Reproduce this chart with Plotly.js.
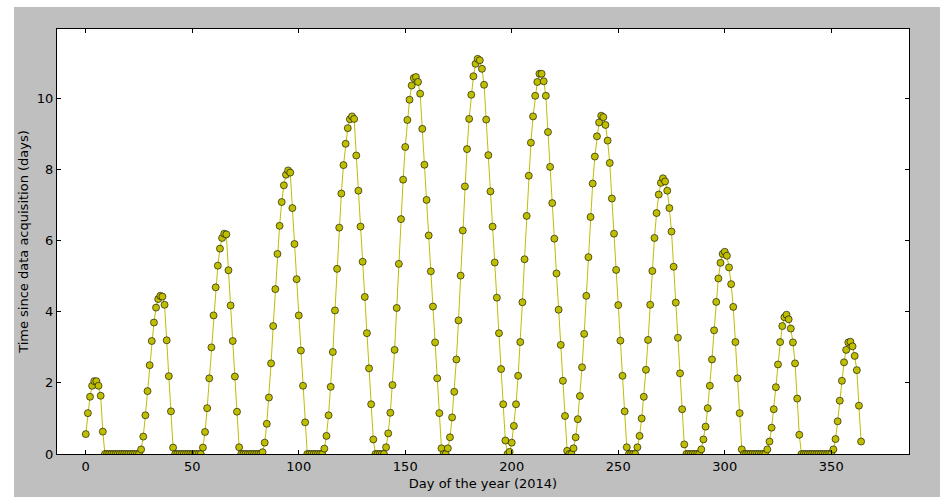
<!DOCTYPE html>
<html>
<head>
<meta charset="utf-8">
<script src="https://cdn.plot.ly/plotly-3.0.1.min.js"></script>
<style>
  html, body { margin: 0; padding: 0; background: #ffffff; }
  #wrap { position: relative; width: 947px; height: 501px; background: #ffffff; overflow: hidden; }
  #chart { position: absolute; left: 14px; top: 7px; width: 926px; height: 490px; }
</style>
</head>
<body>
<div id="wrap"><div id="chart"></div></div>
<script>
// Time since data acquisition (days), one value per day of 2014 (day 0 .. 364)
const days0to54 = [
  0.56, 1.15, 1.61, 1.92, 2.05, 2.05, 1.92, 1.64, 0.63,
  0, 0, 0, 0, 0, 0, 0, 0, 0, 0, 0, 0, 0, 0, 0, 0, 0,
  0.13, 0.49, 1.09, 1.77, 2.50, 3.18, 3.70, 4.12, 4.36, 4.45, 4.43, 4.20, 3.20, 2.19, 1.20, 0.18,
  0, 0, 0, 0, 0, 0, 0, 0, 0, 0, 0, 0, 0
];
const days55to111 = [
  0.18, 0.62, 1.29, 2.13, 3.00, 3.90, 4.69, 5.30, 5.78, 6.08, 6.20, 6.18, 5.17, 4.18, 3.18, 2.18, 1.19, 0.19,
  0, 0, 0, 0, 0, 0, 0, 0, 0, 0,
  0.05, 0.32, 0.85, 1.59, 2.55, 3.60, 4.64, 5.63, 6.42, 7.09, 7.56, 7.86, 7.98, 7.92, 6.92, 5.91, 4.92, 3.90, 2.91, 1.92, 0.89,
  0, 0, 0, 0, 0, 0, 0, 0
];
const days112to169 = [
  0.15, 0.51, 1.09, 1.89, 2.87, 4.04, 5.21, 6.37, 7.33, 8.13, 8.73, 9.17, 9.42, 9.50, 9.43, 8.40, 7.41, 6.40, 5.41, 4.42, 3.40, 2.41, 1.40, 0.41,
  0, 0, 0, 0, 0,
  0.19, 0.58, 1.16, 1.94, 2.93, 4.11, 5.35, 6.61, 7.72, 8.64, 9.40, 9.97, 10.37, 10.58, 10.61, 10.47, 10.14, 9.15, 8.14, 7.15, 6.15, 5.14, 4.15, 3.14, 2.13, 1.15, 0.16,
  0, 0
];
const days170to228 = [
  0.16, 0.47, 1.03, 1.75, 2.66, 3.76, 5.02, 6.29, 7.53, 8.58, 9.43, 10.11, 10.63, 10.98, 11.12, 11.08, 10.84, 10.39, 9.41, 8.41, 7.39, 6.40, 5.39, 4.40, 3.40, 2.39, 1.40, 0.38,
  0,
  0.06, 0.32, 0.79, 1.40, 2.20, 3.15, 4.27, 5.48, 6.70, 7.83, 8.76, 9.50, 10.08, 10.47, 10.70, 10.70, 10.49, 10.08, 9.06, 8.08, 7.06, 6.06, 5.08, 4.06, 3.07, 2.06, 1.07, 0.09,
  0, 0
];
const days229to288 = [
  0.16, 0.47, 0.98, 1.63, 2.44, 3.38, 4.45, 5.54, 6.67, 7.61, 8.37, 8.94, 9.33, 9.52, 9.48, 9.26, 8.82, 8.19, 7.19, 6.20, 5.18, 4.19, 3.19, 2.20, 1.20, 0.19,
  0, 0, 0, 0,
  0.19, 0.51, 1.00, 1.61, 2.37, 3.21, 4.20, 5.15, 6.08, 6.78, 7.30, 7.63, 7.76, 7.67, 7.41, 6.92, 6.26, 5.27, 4.26, 3.27, 2.27, 1.26, 0.27,
  0, 0, 0, 0, 0, 0, 0
];
const days289to364 = [
  0.13, 0.41, 0.77, 1.29, 1.92, 2.66, 3.48, 4.28, 4.94, 5.38, 5.63, 5.69, 5.58, 5.25, 4.78, 4.14, 3.15, 2.13, 1.15, 0.13,
  0, 0, 0, 0, 0, 0, 0, 0, 0, 0, 0,
  0.13, 0.35, 0.74, 1.26, 1.88, 2.52, 3.15, 3.60, 3.85, 3.92, 3.79, 3.53, 3.14, 2.55, 1.56, 0.54,
  0, 0, 0, 0, 0, 0, 0, 0, 0, 0, 0, 0, 0, 0, 0,
  0.13, 0.42, 0.92, 1.50, 2.06, 2.58, 2.93, 3.14, 3.16, 3.03, 2.76, 2.36, 1.36, 0.35
];
const xTicks = [0, 50, 100, 150, 200, 250, 300, 350];
const yTicks = [0, 2, 4, 6, 8, 10];
const xTitle = 'Day of the year (2014)';
const yTitle = 'Time since data acquisition (days)';

const values = [].concat(days0to54, days55to111, days112to169, days170to228, days229to288, days289to364);
const dayOfYear = values.map((v, i) => i);

const font = { family: 'DejaVu Sans, sans-serif', size: 13, color: '#000000' };

const trace = {
  x: dayOfYear,
  y: values,
  type: 'scatter',
  mode: 'lines+markers',
  line: { color: '#bfbf00', width: 1 },
  marker: { color: '#bfbf00', size: 7, line: { color: 'rgba(0,0,0,0.75)', width: 0.8 } },
  cliponaxis: true,
  hoverinfo: 'x+y'
};

const axisCommon = {
  showgrid: false, zeroline: false,
  showline: true, linecolor: '#000000', linewidth: 1, mirror: 'allticks',
  ticks: 'inside', ticklen: 4, tickwidth: 1, tickcolor: '#000000',
  tickfont: font
};

const layout = {
  width: 926, height: 490,
  paper_bgcolor: '#bfbfbf',
  plot_bgcolor: '#ffffff',
  margin: { l: 43, r: 31, t: 22, b: 43, pad: 0 },
  showlegend: false,
  xaxis: Object.assign({}, axisCommon, {
    range: [-13.5, 386.5], tickmode: 'array', tickvals: xTicks, ticktext: xTicks.map(String),
    title: { text: xTitle, font: font, standoff: 6 }
  }),
  yaxis: Object.assign({}, axisCommon, {
    range: [0, 11.96], tickmode: 'array', tickvals: yTicks, ticktext: yTicks.map(String),
    title: { text: yTitle, font: font, standoff: 5 }
  })
};

Plotly.newPlot('chart', [trace], layout, { displayModeBar: false, staticPlot: true });
</script>
</body>
</html>
